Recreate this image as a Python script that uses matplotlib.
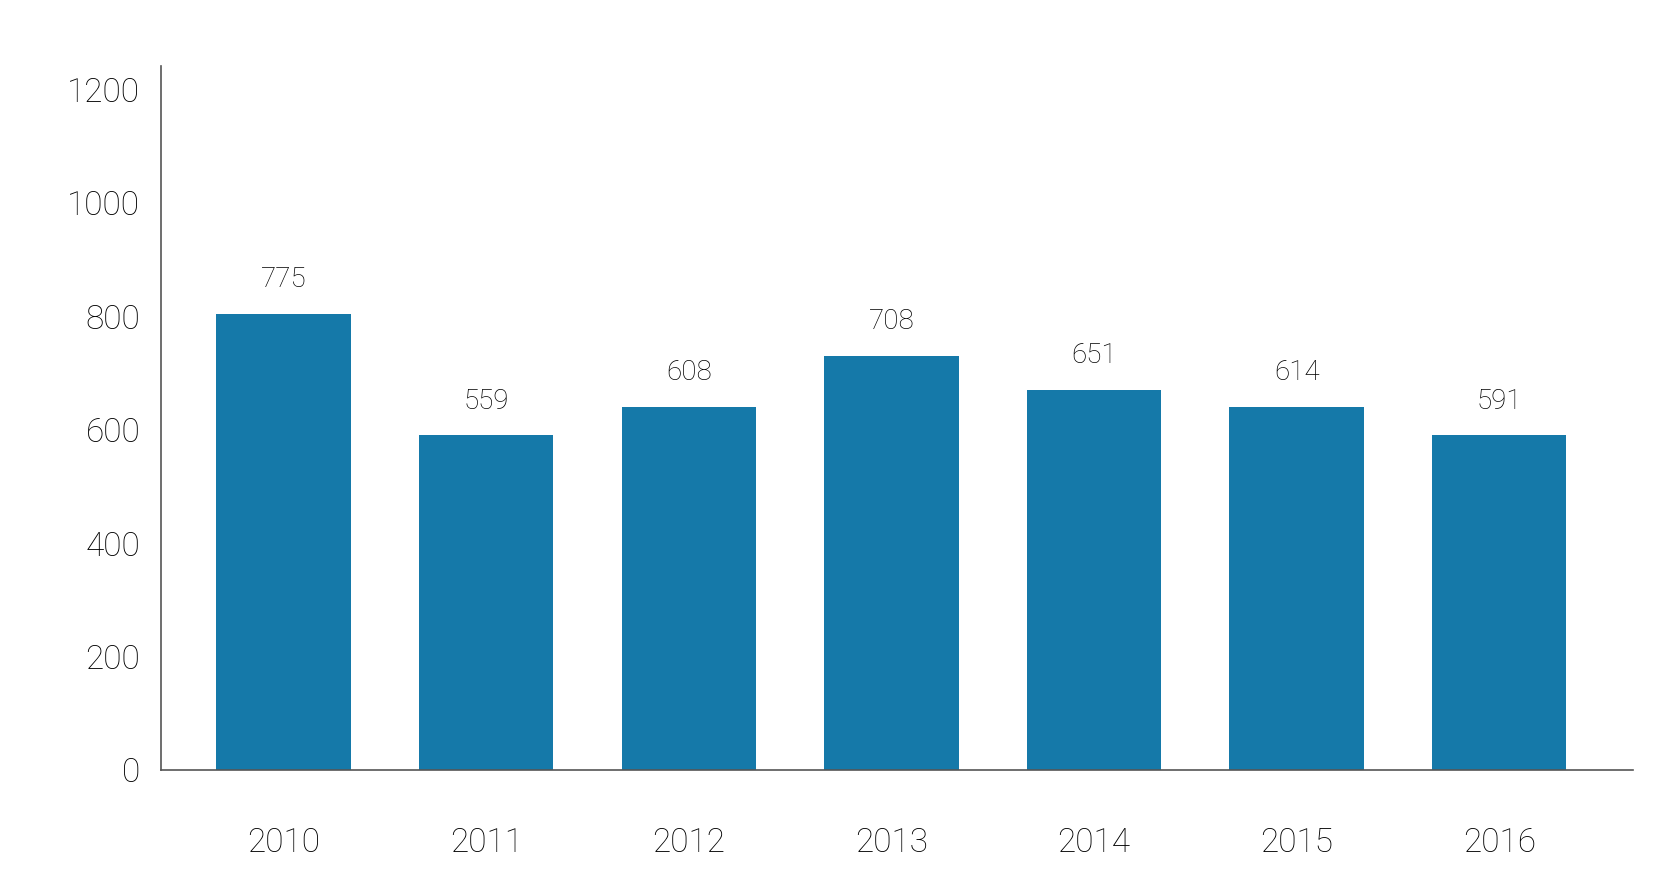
import matplotlib
matplotlib.use("Agg")
import matplotlib.pyplot as plt

years = ["2010", "2011", "2012", "2013", "2014", "2015", "2016"]
bar_heights = [805, 590, 640, 730, 670, 640, 590]
value_labels = ["775", "559", "608", "708", "651", "614", "591"]
y_ticks = [0, 200, 400, 600, 800, 1000, 1200]

bar_color = "#1579a9"
axis_color = "#555555"

plt.rcParams['font.family'] = ['Roboto', 'DejaVu Sans']

fig = plt.figure(figsize=(16.72, 8.88), dpi=100)
ax = fig.add_axes([0.0963, 0.1329, 0.9764 - 0.0963, 0.9257 - 0.1329])

x = list(range(len(years)))
ax.bar(x, bar_heights, width=0.663, color=bar_color)

for xi, h, lab in zip(x, bar_heights, value_labels):
    ax.annotate(lab, (xi, h), xytext=(0, 15), textcoords="offset points",
                ha="center", va="bottom", fontsize=20, fontweight="light",
                color="black")

ax.set_xlim(-0.605, 6.658)
ax.set_ylim(0, 1241.6)
ax.set_xticks(x)
ax.set_xticklabels(years, fontsize=24, fontweight="light", color="black")
ax.set_yticks(y_ticks)
ax.set_yticklabels([str(t) for t in y_ticks], fontsize=24, fontweight="light", color="black")
ax.tick_params(axis="both", length=0)
ax.tick_params(axis="x", pad=41)
ax.tick_params(axis="y", pad=15)

for s in ["top", "right"]:
    ax.spines[s].set_visible(False)
for s in ["left", "bottom"]:
    ax.spines[s].set_color(axis_color)
    ax.spines[s].set_linewidth(1.2)

fig.savefig("out.png", dpi=100)
